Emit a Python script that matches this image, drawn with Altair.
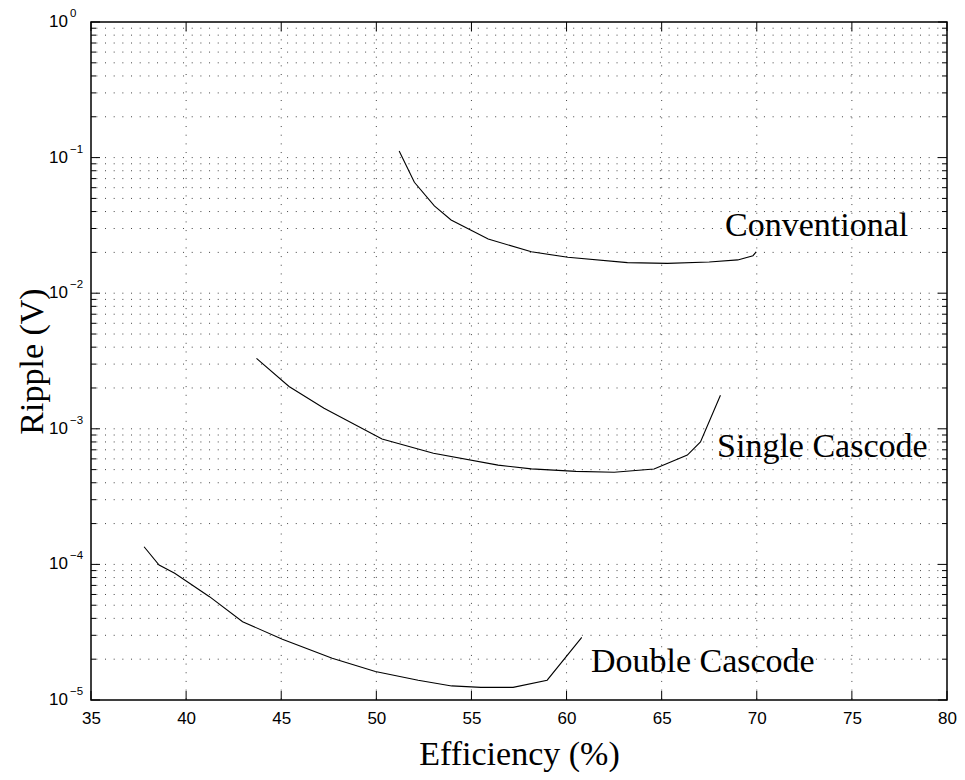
import altair as alt
import pandas as pd

# ---- data ----
conv_eff = [51.2, 52.0, 53.05, 53.93, 55.88, 58.15, 60.07, 63.2, 65.3, 67.5, 69.0, 69.8, 69.97]
conv_rip = [0.112, 0.0658, 0.044, 0.0347, 0.0251, 0.0202, 0.0184, 0.0168, 0.0166, 0.0170, 0.0176, 0.0189, 0.0202]

single_eff = [43.70, 45.41, 47.25, 50.30, 53.0, 56.40, 58.15, 60.5, 62.5, 64.6, 66.35, 67.04, 68.09]
single_rip = [0.00331, 0.00205, 0.00142, 0.00084, 0.00066, 0.00054, 0.000506, 0.000485, 0.000478, 0.000505, 0.00064, 0.00080, 0.00177]

double_eff = [37.79, 38.58, 39.40, 41.23, 42.97, 45.06, 47.68, 49.95, 52.2, 53.96, 55.5, 57.19, 58.98, 60.80]
double_rip = [1.35e-4, 9.9e-5, 8.6e-5, 5.78e-5, 3.78e-5, 2.8e-5, 2.03e-5, 1.62e-5, 1.40e-5, 1.27e-5, 1.24e-5, 1.24e-5, 1.40e-5, 2.9e-5]

label_text = ["Conventional", "Single Cascode", "Double Cascode"]
label_eff = [68.33, 67.91, 61.28]
label_rip = [0.0264, 6.22e-4, 1.62e-5]

x_ticks = [35, 40, 45, 50, 55, 60, 65, 70, 75, 80]
x_grid = [40, 45, 50, 55, 60, 65, 70, 75]
decades = [1e-5, 1e-4, 1e-3, 1e-2, 1e-1, 1.0]
exponents = ["\u22125", "\u22124", "\u22123", "\u22122", "\u22121", "0"]
minor_y = [m * 10.0 ** k for k in range(-5, 0) for m in range(2, 10)]

W, H = 856, 678
SANS = "Liberation Sans"
SERIF = "Liberation Serif"

lines_df = pd.concat([
    pd.DataFrame({"eff": conv_eff, "ripple": conv_rip, "series": "Conventional"}),
    pd.DataFrame({"eff": single_eff, "ripple": single_rip, "series": "Single Cascode"}),
    pd.DataFrame({"eff": double_eff, "ripple": double_rip, "series": "Double Cascode"}),
])
xgrid_df = pd.DataFrame({"eff": x_grid})
xtick_df = pd.DataFrame({"eff": x_ticks})
ygrid_df = pd.DataFrame({"ripple": minor_y + decades[1:-1]})
ymajor_df = pd.DataFrame({"ripple": decades})
yminor_df = pd.DataFrame({"ripple": minor_y})
ylab_df = pd.DataFrame({"ripple": decades, "exp": exponents})
ann_df = pd.DataFrame({"eff": label_eff, "ripple": label_rip, "text": label_text})

xscale = alt.Scale(domain=[35, 80], nice=False, zero=False)
yscale = alt.Scale(type="log", domain=[1e-5, 1], nice=False)

xaxis = alt.Axis(values=x_ticks, ticks=False, domain=False, grid=False,
                 labelFont=SANS, labelFontSize=17, labelColor="black", labelPadding=10,
                 labelFlush=False, labelOverlap=False,
                 title="Efficiency (%)", titleFont=SERIF, titleFontSize=34,
                 titleFontWeight="normal", titleColor="black",
                 titleY=64, titleBaseline="alphabetic")
yaxis = alt.Axis(labels=False, ticks=False, domain=False, grid=False,
                 title="Ripple (V)", titleFont=SERIF, titleFontSize=34,
                 titleFontWeight="normal", titleColor="black",
                 titleX=-49, titleY=H / 2, titleBaseline="alphabetic", titleAlign="center")

X = alt.X("eff:Q", scale=xscale, axis=xaxis)
Y = alt.Y("ripple:Q", scale=yscale, axis=yaxis)

dot = dict(color="#444444", strokeWidth=1, strokeDash=[1, 7.67])

vgrid = alt.Chart(xgrid_df).mark_rule(**dot).encode(x=X)
hgrid = alt.Chart(ygrid_df).mark_rule(**dot).encode(y=Y)

curves = alt.Chart(lines_df).mark_line(color="black", strokeWidth=1.1).encode(
    x=X, y=Y, detail="series:N", order=alt.Order("eff:Q"))

tick_style = dict(color="black", strokeWidth=1)
t_bottom = alt.Chart(xtick_df).mark_rule(**tick_style).encode(x=X, y=alt.value(H - 9), y2=alt.value(H))
t_top = alt.Chart(xtick_df).mark_rule(**tick_style).encode(x=X, y=alt.value(0), y2=alt.value(9))
t_left = alt.Chart(ymajor_df).mark_rule(**tick_style).encode(y=Y, x=alt.value(0), x2=alt.value(9))
t_right = alt.Chart(ymajor_df).mark_rule(**tick_style).encode(y=Y, x=alt.value(W - 9), x2=alt.value(W))
m_left = alt.Chart(yminor_df).mark_rule(**tick_style).encode(y=Y, x=alt.value(0), x2=alt.value(5))
m_right = alt.Chart(yminor_df).mark_rule(**tick_style).encode(y=Y, x=alt.value(W - 5), x2=alt.value(W))

ylab_base = alt.Chart(ylab_df).mark_text(font=SANS, fontSize=17, color="black",
                                         align="left", baseline="middle").encode(
    y=Y, x=alt.value(-42), text=alt.value("10"))
ylab_exp = alt.Chart(ylab_df).mark_text(font=SANS, fontSize=11.5, color="black",
                                        align="left", baseline="middle", dy=-8).encode(
    y=Y, x=alt.value(-21), text="exp:N")

ann = alt.Chart(ann_df).mark_text(font=SERIF, fontSize=34, color="black",
                                  align="left", baseline="alphabetic").encode(
    x=X, y=Y, text="text:N")

chart = alt.layer(
    vgrid, hgrid, curves, t_bottom, t_top, t_left, t_right, m_left, m_right,
    ylab_base, ylab_exp, ann
).properties(
    width=W, height=H,
    autosize=alt.AutoSizeParams(type="none"),
    padding={"left": 83, "top": 14, "right": 10, "bottom": 72},
    background="white",
).configure_view(stroke="black", strokeWidth=1.5)

chart.save("out.html", embed_options={"renderer": "svg", "actions": False})
